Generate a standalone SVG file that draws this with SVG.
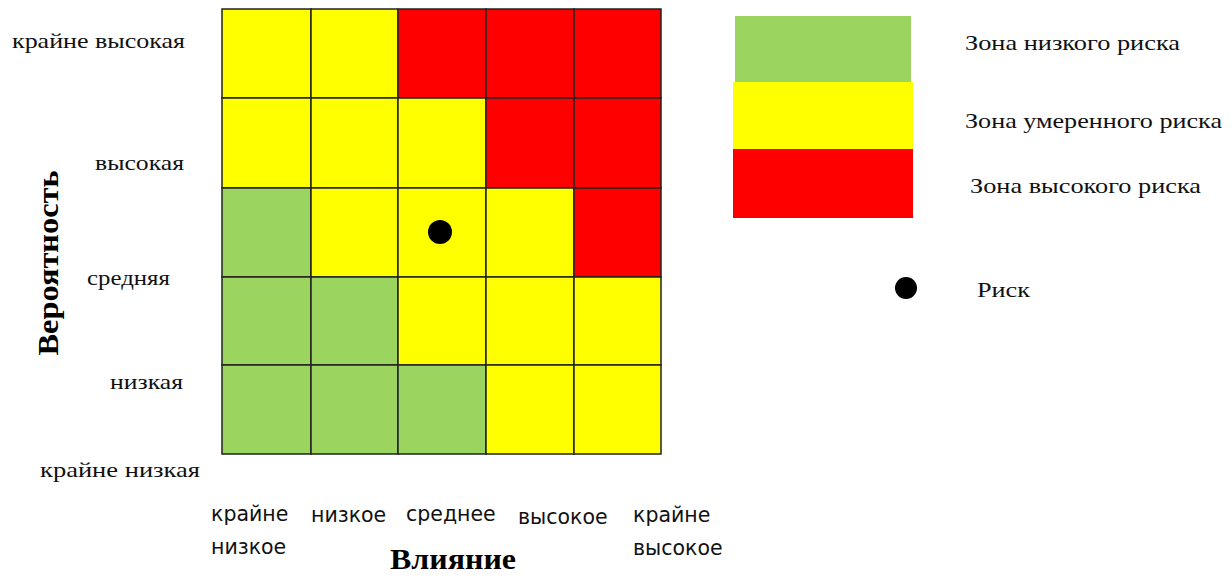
<svg xmlns="http://www.w3.org/2000/svg" width="1232" height="577" viewBox="0 0 1232 577">
<style>
.g{fill:#9BD45E}.y{fill:#FFFF00}.r{fill:#FF0000}
.cell{stroke:#222;stroke-width:1.5}
.lbl{font-family:"Liberation Serif",serif;font-size:22px;fill:#111}
.sans{font-family:"DejaVu Sans",sans-serif;font-size:20.5px;fill:#111}
.ttl{font-family:"Liberation Serif",serif;font-size:30px;font-weight:bold;fill:#000}
</style>
<rect width="1232" height="577" fill="#fff"/>
<g id="matrix">
<rect class="cell y" x="222" y="9" width="89" height="89"/>
<rect class="cell y" x="311" y="9" width="87" height="89"/>
<rect class="cell r" x="398" y="9" width="88" height="89"/>
<rect class="cell r" x="486" y="9" width="88" height="89"/>
<rect class="cell r" x="574" y="9" width="87" height="89"/>
<rect class="cell y" x="222" y="98" width="89" height="90"/>
<rect class="cell y" x="311" y="98" width="87" height="90"/>
<rect class="cell y" x="398" y="98" width="88" height="90"/>
<rect class="cell r" x="486" y="98" width="88" height="90"/>
<rect class="cell r" x="574" y="98" width="87" height="90"/>
<rect class="cell g" x="222" y="188" width="89" height="89"/>
<rect class="cell y" x="311" y="188" width="87" height="89"/>
<rect class="cell y" x="398" y="188" width="88" height="89"/>
<rect class="cell y" x="486" y="188" width="88" height="89"/>
<rect class="cell r" x="574" y="188" width="87" height="89"/>
<rect class="cell g" x="222" y="277" width="89" height="88"/>
<rect class="cell g" x="311" y="277" width="87" height="88"/>
<rect class="cell y" x="398" y="277" width="88" height="88"/>
<rect class="cell y" x="486" y="277" width="88" height="88"/>
<rect class="cell y" x="574" y="277" width="87" height="88"/>
<rect class="cell g" x="222" y="365" width="89" height="89"/>
<rect class="cell g" x="311" y="365" width="87" height="89"/>
<rect class="cell g" x="398" y="365" width="88" height="89"/>
<rect class="cell y" x="486" y="365" width="88" height="89"/>
<rect class="cell y" x="574" y="365" width="87" height="89"/>
</g>
<g id="risk-dot"><circle cx="440" cy="232" r="12" fill="#000"/></g>
<g id="row-labels">
<text x="12" y="48" class="lbl" textLength="173" lengthAdjust="spacingAndGlyphs">крайне высокая</text>
<text x="95" y="170" class="lbl" textLength="89" lengthAdjust="spacingAndGlyphs">высокая</text>
<text x="87" y="285" class="lbl" textLength="83" lengthAdjust="spacingAndGlyphs">средняя</text>
<text x="110" y="389" class="lbl" textLength="73" lengthAdjust="spacingAndGlyphs">низкая</text>
<text x="40" y="477" class="lbl" textLength="160" lengthAdjust="spacingAndGlyphs">крайне низкая</text>
</g>
<g id="y-title"><text class="ttl" transform="translate(58,263) rotate(-90)" text-anchor="middle" textLength="185" lengthAdjust="spacingAndGlyphs">Вероятность</text></g>
<g id="col-labels">
<text class="sans" x="211" y="521">крайне</text>
<text class="sans" x="211" y="554">низкое</text>
<text class="sans" x="311" y="522">низкое</text>
<text class="sans" x="406" y="521">среднее</text>
<text class="sans" x="518" y="524">высокое</text>
<text class="sans" x="633" y="522">крайне</text>
<text class="sans" x="633" y="555">высокое</text>
</g>
<g id="x-title"><text class="ttl" x="390" y="569" textLength="126" lengthAdjust="spacingAndGlyphs">Влияние</text></g>
<g id="legend">
<rect class="g" x="735" y="16" width="176" height="66"/>
<rect class="y" x="733" y="82" width="180" height="67"/>
<rect class="r" x="733" y="149" width="180" height="69"/>
<text class="lbl" x="965" y="50" textLength="215" lengthAdjust="spacingAndGlyphs">Зона низкого риска</text>
<text class="lbl" x="965" y="128" textLength="257" lengthAdjust="spacingAndGlyphs">Зона умеренного риска</text>
<text class="lbl" x="970" y="193" textLength="231" lengthAdjust="spacingAndGlyphs">Зона высокого риска</text>
<circle cx="906" cy="288" r="11" fill="#000"/>
<text class="lbl" x="977" y="297" textLength="53" lengthAdjust="spacingAndGlyphs">Риск</text>
</g>
</svg>
